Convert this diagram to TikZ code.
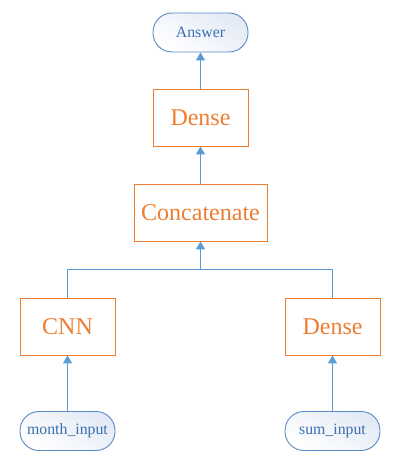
\documentclass[tikz,border=0pt]{standalone}
\usepackage{fontspec}
\setmainfont{Liberation Serif}
\usetikzlibrary{arrows.meta}
\definecolor{orng}{HTML}{ED7D31}
\definecolor{lblue}{HTML}{5B9BD5}
\definecolor{bborder}{HTML}{5A8AC6}
\definecolor{btext}{HTML}{3B6FB0}
\definecolor{bfill}{HTML}{E3EAF5}
\begin{document}
\begin{tikzpicture}[x=1pt,y=-1pt,
  layer/.style={draw=orng,line width=0.9pt,text=orng,font=\fontsize{24}{26}\selectfont,inner sep=0pt},
  term/.style={draw=bborder,line width=0.9pt,text=btext,rounded corners=19pt,minimum width=95pt,minimum height=39pt,inner sep=0pt,top color=bfill,bottom color=white,shading angle=-30,font=\fontsize{15.8}{18}\selectfont},
  conn/.style={draw=lblue,line width=1pt},
  arr/.style={conn,-{Triangle[length=8pt,width=9pt]}}]
\useasboundingbox (0,0) rectangle (418,470);
\node[term] (ans) at (200.5,32.5) {Answer};
\node[layer,minimum width=95pt,minimum height=57pt] (d1) at (200.5,117.5) {Dense};
\node[layer,minimum width=133pt,minimum height=57pt] (cat) at (200.5,212.5) {Concatenate};
\node[layer,minimum width=95pt,minimum height=57pt] (cnn) at (67.5,326.5) {CNN};
\node[layer,minimum width=95pt,minimum height=57pt] (d2) at (332.5,326.5) {Dense};
\node[term] (mi) at (67.5,431) {month\_input};
\node[term] (si) at (332.5,431) {sum\_input};
\coordinate (j) at (200.5,269);
\draw[arr] (d1.north) -- (ans.south);
\draw[arr] (cat.north) -- (d1.south);
\draw[conn] (cnn.north) |- (j);
\draw[conn] (d2.north) |- (j);
\draw[arr] (j) -- (cat.south);
\draw[arr] (mi.north) -- (cnn.south);
\draw[arr] (si.north) -- (d2.south);
\end{tikzpicture}
\end{document}
